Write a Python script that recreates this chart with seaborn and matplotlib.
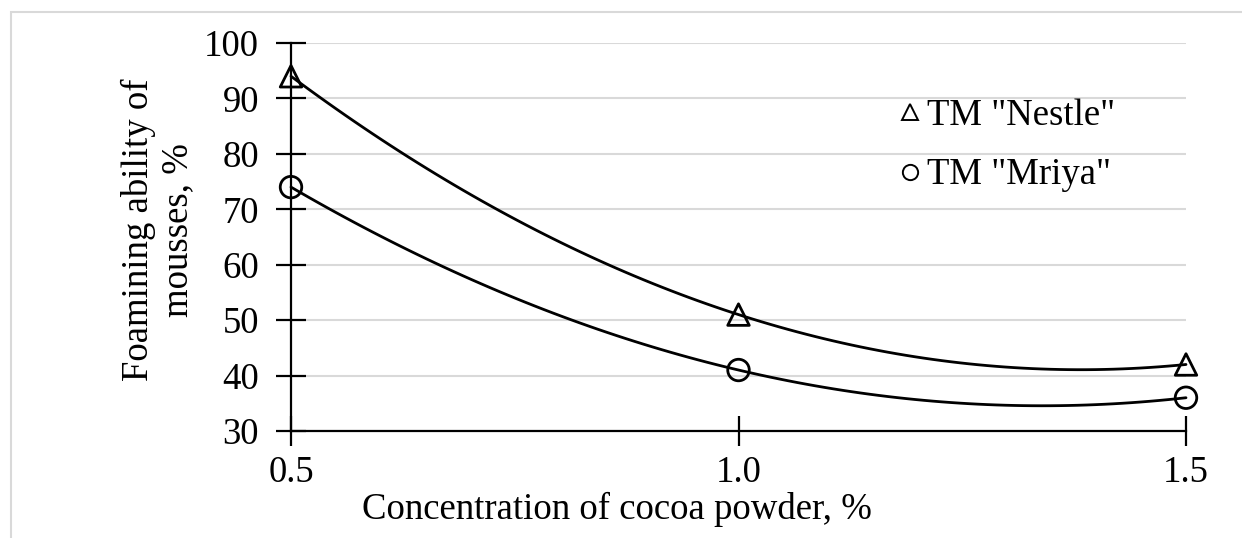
import matplotlib
matplotlib.use("Agg")
import matplotlib.pyplot as plt
import seaborn as sns
import numpy as np
import pandas as pd
from matplotlib.lines import Line2D
from matplotlib.patches import Rectangle

# Data
concentration = [0.5, 1.0, 1.5]
nestle = [94, 51, 42]
mriya = [74, 41, 36]
series_names = ['TM "Nestle"', 'TM "Mriya"']
x_ticks = [0.5, 1.0, 1.5]
y_ticks = [30, 40, 50, 60, 70, 80, 90, 100]

sns.set_theme(style="white")
plt.rcParams['font.family'] = ['Liberation Serif', 'DejaVu Serif']
plt.rcParams['text.color'] = 'black'
plt.rcParams['axes.labelcolor'] = 'black'
plt.rcParams['xtick.color'] = 'black'
plt.rcParams['ytick.color'] = 'black'

FS = 26.5

fig = plt.figure(figsize=(12.42, 5.38), dpi=100)
ax = fig.add_axes([291/1242, 1-431/538, (1186-291)/1242, (431-43)/538])

df = pd.DataFrame({"x": concentration, "nestle": nestle, "mriya": mriya})

for col, mk in (("nestle", "^"), ("mriya", "o")):
    sns.regplot(data=df, x="x", y=col, order=2, ci=None, ax=ax,
                marker=mk,
                scatter_kws=dict(s=240, facecolors="none", edgecolors="black",
                                 linewidths=2.0, clip_on=False, zorder=4, alpha=1),
                line_kws=dict(color="black", lw=2.0, zorder=3, clip_on=False),
                truncate=True)

ax.set_xlim(0.5, 1.5)
ax.set_ylim(30, 100)
ax.set_xticks(x_ticks)
ax.set_xticklabels([f"{v:.1f}" for v in x_ticks])
ax.set_yticks(y_ticks)
ax.yaxis.grid(True, color="#d9d9d9", lw=1.5)
ax.set_axisbelow(True)
for s in ("top", "right"):
    ax.spines[s].set_visible(False)
for s in ("left", "bottom"):
    ax.spines[s].set_color("black")
    ax.spines[s].set_linewidth(1.6)
ax.tick_params(axis="both", which="major", bottom=True, left=True,
               direction="inout", length=22, width=1.6,
               colors="black", labelcolor="black", labelsize=FS)
ax.tick_params(axis="y", pad=12)
ax.tick_params(axis="x", pad=7)
ax.set_xlabel("")
ax.set_ylabel("")

fig.text(617/1242, 1-509/538, "Concentration of cocoa powder, %",
         ha="center", va="center", fontsize=FS, color="black")
fig.text(158/1242, 1-230/538, "Foamining ability of\nmousses, %",
         ha="center", va="center", rotation=90, fontsize=FS, linespacing=1.15,
         color="black")

handles = [Line2D([], [], ls="none", marker="^", ms=11, mfc="none", mec="black", mew=1.4),
           Line2D([], [], ls="none", marker="o", ms=11, mfc="none", mec="black", mew=1.4)]
leg = ax.legend(handles, series_names, loc="upper left", bbox_to_anchor=(0.665, 0.895),
                frameon=False, fontsize=FS, handlelength=0.5, handletextpad=0.2,
                labelspacing=0.68, borderaxespad=0)
for t in leg.get_texts():
    t.set_color("black")

fig.add_artist(Rectangle((11/1242, -0.1), 1.2, 1-12/538+0.1, transform=fig.transFigure,
                         fill=False, edgecolor="#d9d9d9", lw=1.5))

fig.savefig("out.png", dpi=100)
